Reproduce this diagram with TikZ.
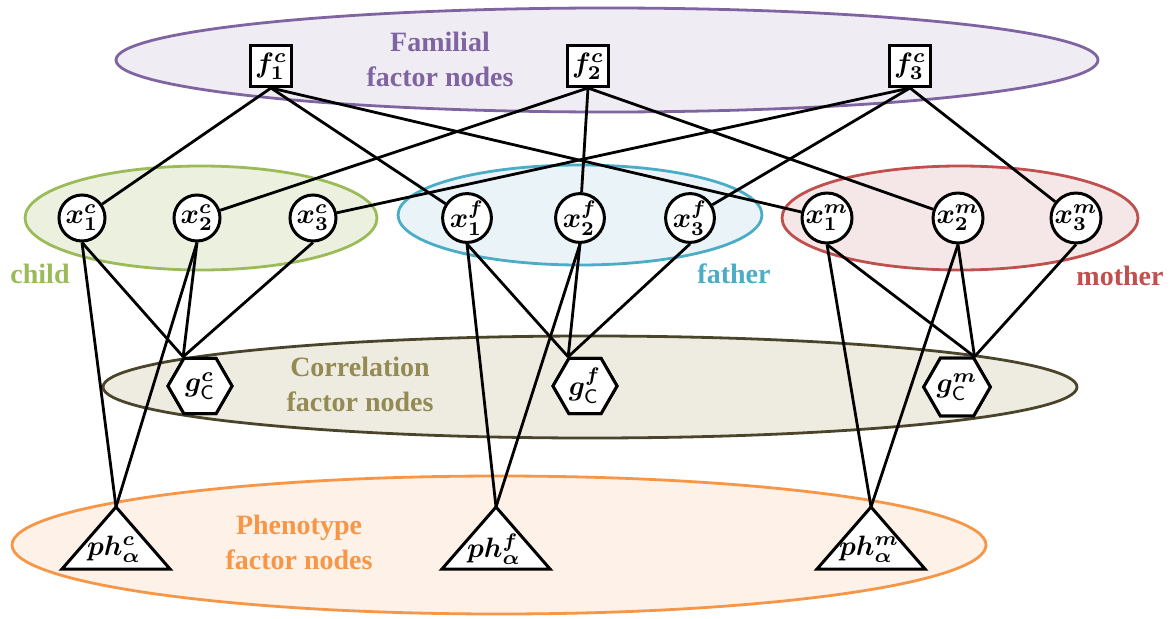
\documentclass[tikz,border=0pt]{standalone}
\usepackage{graphicx}
\usepackage{amsmath,bm}
\usepackage{fontspec}
\setmainfont{Liberation Serif}
\usetikzlibrary{shapes.geometric}
\newcommand{\nlbl}[1]{\scalebox{2.8}{$#1$}}
\definecolor{famS}{HTML}{8064A2}\definecolor{famF}{HTML}{EFECF3}
\definecolor{chS}{HTML}{9BBB59}\definecolor{chF}{HTML}{EBF1DE}
\definecolor{faS}{HTML}{4BACC6}\definecolor{faF}{HTML}{EAF4F8}
\definecolor{moS}{HTML}{C0504D}\definecolor{moF}{HTML}{F5E7E7}
\definecolor{coS}{HTML}{4A452A}\definecolor{coF}{HTML}{EEECE1}\definecolor{coT}{HTML}{948A54}
\definecolor{phS}{HTML}{F79646}\definecolor{phF}{HTML}{FDF1E8}
\begin{document}
\begin{tikzpicture}[x=1pt,y=-1pt,
  grp/.style={line width=2.8pt},
  glabel/.style={font=\fontsize{28}{35}\selectfont\bfseries, align=center},
  sq/.style={draw, line width=3pt, fill=white, minimum size=41pt, inner sep=0pt},
  var/.style={draw, circle, line width=3pt, fill=white, minimum size=46pt, inner sep=0pt},
  hex/.style={draw, regular polygon, regular polygon sides=6, line width=3pt, fill=white, minimum size=64pt, inner sep=0pt},
  tri/.style={draw, line width=3pt, fill=white},
  tlab/.style={inner sep=0pt},
  edge/.style={line width=2.8pt}]
\useasboundingbox (0,0) rectangle (1174,618);
% group ellipses
\draw[grp, draw=famS, fill=famF] (607,60) ellipse [x radius=491, y radius=52];
\draw[grp, draw=chS, fill=chF] (201,218) ellipse [x radius=176, y radius=52];
\draw[grp, draw=faS, fill=faF] (580,215) ellipse [x radius=182, y radius=50];
\draw[grp, draw=moS, fill=moF] (960,218) ellipse [x radius=178, y radius=52];
\draw[grp, draw=coS, fill=coF] (590,387) ellipse [x radius=487, y radius=51];
\draw[grp, draw=phS, fill=phF] (499,545) ellipse [x radius=487, y radius=69];
% group labels
\node[glabel, text=famS] (lfam) at (440,59) {Familial\\factor nodes};
\node[glabel, text=coT] (lcor) at (360,384) {Correlation\\factor nodes};
\node[glabel, text=phS] (lphe) at (299,542) {Phenotype\\factor nodes};
\node[glabel, text=chS] (lch) at (40,274) {child};
\node[glabel, text=faS] (lfa) at (734,274) {father};
\node[glabel, text=moS] (lmo) at (1120,276) {mother};
% node positions
\coordinate (phca) at (116,507);
\coordinate (phfa) at (496,507);
\coordinate (phma) at (871,507);
\node[sq] (f1) at (271,66) {\nlbl{\bm{f}^{\bm c}_{\bm 1}}};
\node[sq] (f2) at (588,66) {\nlbl{\bm{f}^{\bm c}_{\bm 2}}};
\node[sq] (f3) at (910,66) {\nlbl{\bm{f}^{\bm c}_{\bm 3}}};
\node[var] (x1c) at (82,218) {\nlbl{\bm{x}^{\bm c}_{\bm 1}}};
\node[var] (x2c) at (197,218) {\nlbl{\bm{x}^{\bm c}_{\bm 2}}};
\node[var] (x3c) at (313,218) {\nlbl{\bm{x}^{\bm c}_{\bm 3}}};
\node[var] (x1f) at (467,218) {\nlbl{\bm{x}^{\bm f}_{\bm 1}}};
\node[var] (x2f) at (580,218) {\nlbl{\bm{x}^{\bm f}_{\bm 2}}};
\node[var] (x3f) at (690,218) {\nlbl{\bm{x}^{\bm f}_{\bm 3}}};
\node[var] (x1m) at (827,218) {\nlbl{\bm{x}^{\bm m}_{\bm 1}}};
\node[var] (x2m) at (958,218) {\nlbl{\bm{x}^{\bm m}_{\bm 2}}};
\node[var] (x3m) at (1076,218) {\nlbl{\bm{x}^{\bm m}_{\bm 3}}};
% edges
\foreach \f/\a/\b/\c in {f1/x1c/x1f/x1m, f2/x2c/x2f/x2m, f3/x3c/x3f/x3m}{
  \draw[edge] (\f.south) -- (\a);
  \draw[edge] (\f.south) -- (\b);
  \draw[edge] (\f.south) -- (\c);
}
\node[hex] (gc) at (200,386) {\nlbl{\bm{g}^{\bm c}_{\mathsf{C}}}};
\node[hex] (gf) at (585,386) {\nlbl{\bm{g}^{\bm f}_{\mathsf{C}}}};
\node[hex] (gm) at (957,387) {\nlbl{\bm{g}^{\bm m}_{\mathsf{C}}}};
\foreach \x in {x1c,x2c,x3c}{\draw[edge] (\x.south) -- (gc.120);}
\foreach \x in {x1f,x2f,x3f}{\draw[edge] (\x.south) -- (gf.120);}
\foreach \x in {x1m,x2m,x3m}{\draw[edge] (\x.south) -- (gm.60);}
\foreach \x in {x1c,x2c}{\draw[edge] (\x.south) -- (phca);}
\foreach \x in {x1f,x2f}{\draw[edge] (\x.south) -- (phfa);}
\foreach \x in {x1m,x2m}{\draw[edge] (\x.south) -- (phma);}
% redraw nodes on top
\node[hex] at (gc) {\nlbl{\bm{g}^{\bm c}_{\mathsf{C}}}};
\node[hex] at (gf) {\nlbl{\bm{g}^{\bm f}_{\mathsf{C}}}};
\node[hex] at (gm) {\nlbl{\bm{g}^{\bm m}_{\mathsf{C}}}};
% phenotype triangles
\draw[tri] (phca) -- (170,569) -- (62,569) -- cycle;
\draw[tri] (phfa) -- (550,569) -- (442,569) -- cycle;
\draw[tri] (phma) -- (925,569) -- (817,569) -- cycle;
\node[tlab] (phc) at (114,549) {\nlbl{\bm{ph}^{\bm c}_{\bm\alpha}}};
\node[tlab] (phf) at (494,549) {\nlbl{\bm{ph}^{\bm f}_{\bm\alpha}}};
\node[tlab] (phm) at (869,549) {\nlbl{\bm{ph}^{\bm m}_{\bm\alpha}}};
\end{tikzpicture}
\end{document}
